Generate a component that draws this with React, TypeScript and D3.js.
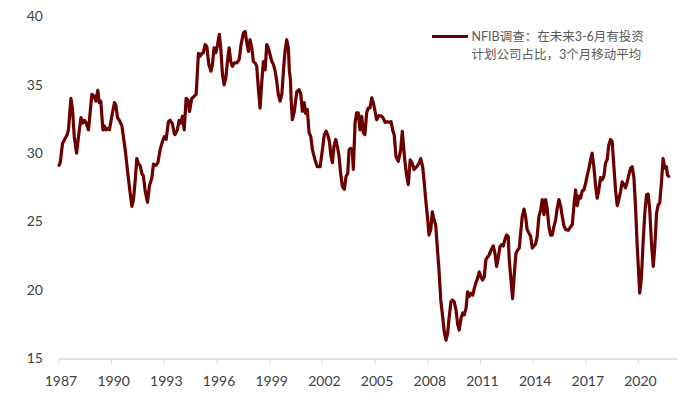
import React, { useEffect, useRef } from "react";
import * as d3 from "d3";

// NFIB: share of firms planning capital outlays in next 3-6 months (3m MA)
const LINE_COLOR = "#6b0000";

const yTicks = [15, 20, 25, 30, 35, 40];
const xTickYears = [1987, 1990, 1993, 1996, 1999, 2002, 2005, 2008, 2011, 2014, 2017, 2020];
const legendLines = ["NFIB调查：在未来3-6月有投资", "计划公司占比，3个月移动平均"];

// observation dates as decimal years
const obsYear = [
  1987.0, 1987.07, 1987.2, 1987.45, 1987.54, 1987.68, 1987.77, 1987.87, 1988.0, 1988.11,
  1988.25, 1988.36, 1988.45, 1988.55, 1988.68, 1988.87, 1988.99, 1989.1, 1989.21, 1989.29,
  1989.38, 1989.5, 1989.59, 1989.67, 1989.78, 1989.87, 1990.01, 1990.16, 1990.24, 1990.33,
  1990.44, 1990.58, 1990.77, 1990.92, 1991.05, 1991.15, 1991.24, 1991.34, 1991.43, 1991.52,
  1991.62, 1991.72, 1991.81, 1991.91, 1992.04, 1992.15, 1992.29, 1992.38, 1992.52, 1992.63,
  1992.76, 1992.89, 1993.0, 1993.1, 1993.23, 1993.33, 1993.46, 1993.57, 1993.61, 1993.74,
  1993.84, 1993.94, 1994.03, 1994.13, 1994.24, 1994.34, 1994.43, 1994.56, 1994.69, 1994.81,
  1994.94, 1995.04, 1995.13, 1995.22, 1995.32, 1995.42, 1995.53, 1995.65, 1995.74, 1995.83,
  1995.93, 1996.02, 1996.13, 1996.21, 1996.31, 1996.4, 1996.5, 1996.59, 1996.69, 1996.78,
  1996.87, 1996.99, 1997.13, 1997.26, 1997.37, 1997.5, 1997.6, 1997.69, 1997.79, 1997.88,
  1997.98, 1998.07, 1998.17, 1998.26, 1998.35, 1998.45, 1998.55, 1998.64, 1998.74, 1998.83,
  1998.92, 1999.02, 1999.12, 1999.21, 1999.31, 1999.4, 1999.49, 1999.59, 1999.69, 1999.78,
  1999.87, 1999.97, 2000.06, 2000.12, 2000.18, 2000.22, 2000.29, 2000.4, 2000.54, 2000.67,
  2000.77, 2000.86, 2000.96, 2001.05, 2001.14, 2001.24, 2001.34, 2001.43, 2001.58, 2001.71,
  2001.87, 2002.0, 2002.11, 2002.21, 2002.3, 2002.4, 2002.49, 2002.57, 2002.66, 2002.76,
  2002.85, 2002.95, 2003.04, 2003.14, 2003.25, 2003.35, 2003.44, 2003.52, 2003.61, 2003.7,
  2003.76, 2003.86, 2003.95, 2004.04, 2004.14, 2004.24, 2004.33, 2004.42, 2004.52, 2004.61,
  2004.71, 2004.81, 2004.9, 2005.0, 2005.09, 2005.22, 2005.38, 2005.47, 2005.57, 2005.7,
  2005.81, 2005.91, 2006.0, 2006.09, 2006.19, 2006.32, 2006.46, 2006.55, 2006.67, 2006.78,
  2006.89, 2007.0, 2007.12, 2007.22, 2007.37, 2007.5, 2007.6, 2007.71, 2007.8, 2007.9,
  2008.0, 2008.07, 2008.17, 2008.26, 2008.36, 2008.45, 2008.54, 2008.64, 2008.74, 2008.85,
  2008.94, 2009.04, 2009.13, 2009.22, 2009.32, 2009.41, 2009.51, 2009.61, 2009.7, 2009.79,
  2009.89, 2009.99, 2010.08, 2010.18, 2010.27, 2010.36, 2010.46, 2010.56, 2010.65, 2010.74,
  2010.84, 2010.93, 2011.03, 2011.12, 2011.22, 2011.31, 2011.41, 2011.5, 2011.6, 2011.73,
  2011.83, 2011.92, 2012.01, 2012.11, 2012.21, 2012.3, 2012.4, 2012.49, 2012.58, 2012.64,
  2012.74, 2012.83, 2012.93, 2013.02, 2013.12, 2013.21, 2013.29, 2013.38, 2013.48, 2013.57,
  2013.66, 2013.76, 2013.86, 2013.95, 2014.05, 2014.14, 2014.23, 2014.33, 2014.43, 2014.52,
  2014.62, 2014.71, 2014.8, 2014.9, 2015.0, 2015.09, 2015.18, 2015.28, 2015.37, 2015.47,
  2015.57, 2015.66, 2015.75, 2015.85, 2016.0, 2016.13, 2016.23, 2016.32, 2016.42, 2016.51,
  2016.61, 2016.7, 2016.8, 2016.89, 2016.99, 2017.08, 2017.18, 2017.27, 2017.36, 2017.46,
  2017.56, 2017.65, 2017.74, 2017.84, 2017.93, 2018.03, 2018.12, 2018.22, 2018.31, 2018.41,
  2018.5, 2018.6, 2018.7, 2018.79, 2018.88, 2018.98, 2019.07, 2019.17, 2019.26, 2019.36,
  2019.45, 2019.55, 2019.64, 2019.74, 2019.83, 2019.92, 2020.02, 2020.07, 2020.17, 2020.26,
  2020.36, 2020.46, 2020.55, 2020.64, 2020.74, 2020.84, 2020.93, 2021.03, 2021.12, 2021.21,
  2021.31, 2021.4, 2021.5, 2021.59, 2021.65, 2021.72,
];

// % of firms planning capex, 3-month moving average
const capexPlanPct = [
  29.1, 29.3, 30.7, 31.3, 31.7, 34.0, 33.2, 31.2, 30.0, 31.2,
  32.6, 32.2, 32.4, 32.2, 31.7, 34.3, 34.2, 33.8, 34.6, 33.7,
  33.8, 31.7, 32.0, 31.7, 31.8, 31.7, 32.7, 33.7, 33.5, 32.6,
  32.4, 32.0, 30.25, 28.5, 27.1, 26.1, 26.6, 28.0, 29.6, 29.2,
  29.1, 28.5, 28.3, 27.2, 26.4, 27.6, 28.2, 29.2, 29.1, 29.3,
  30.25, 30.85, 31.2, 31.0, 32.3, 32.4, 32.15, 31.4, 31.35, 31.7,
  32.4, 32.2, 32.7, 31.7, 34.0, 33.9, 33.05, 34.0, 34.15, 34.3,
  37.3, 37.1, 37.3, 37.35, 37.95, 37.8, 36.5, 36.0, 36.5, 37.7,
  37.35, 37.85, 38.7, 37.7, 35.75, 35.0, 35.5, 36.7, 37.7, 36.7,
  36.35, 36.6, 36.6, 36.85, 37.95, 38.8, 38.9, 38.1, 37.45, 38.3,
  37.7, 36.7, 36.6, 36.35, 34.8, 33.3, 35.25, 36.7, 36.1, 37.95,
  37.7, 37.2, 36.7, 36.5, 36.0, 35.25, 34.3, 33.8, 34.3, 36.0,
  37.45, 38.3, 37.7, 36.0, 35.4, 33.9, 32.45, 33.05, 34.5, 34.65,
  34.3, 33.05, 33.7, 32.9, 33.2, 31.5, 31.2, 30.25, 29.5, 29.0,
  29.0, 30.25, 31.35, 31.6, 31.35, 30.85, 29.75, 29.3, 30.5, 31.0,
  30.5, 29.75, 28.5, 27.55, 27.35, 28.3, 28.5, 30.25, 30.35, 30.25,
  28.8, 32.2, 32.95, 32.95, 31.7, 32.7, 31.5, 31.35, 32.95, 33.3,
  33.3, 34.05, 33.7, 33.05, 32.45, 32.75, 32.7, 32.55, 32.25, 32.3,
  32.25, 32.3, 31.7, 31.35, 29.75, 29.4, 30.25, 31.6, 29.75, 28.5,
  27.7, 29.5, 29.25, 28.8, 29.0, 29.25, 29.6, 29.0, 27.8, 26.35,
  25.1, 24.0, 24.4, 25.7, 25.1, 24.75, 23.15, 21.45, 19.25, 18.0,
  16.9, 16.3, 16.8, 18.0, 19.1, 19.25, 19.1, 18.5, 17.5, 17.05,
  17.9, 18.3, 18.15, 18.65, 19.85, 19.5, 19.75, 19.6, 20.1, 20.5,
  20.85, 21.3, 20.95, 20.7, 20.95, 22.2, 22.4, 22.55, 22.9, 23.2,
  22.65, 21.7, 22.3, 23.15, 23.3, 23.2, 23.7, 24.0, 23.9, 22.2,
  20.7, 19.35, 21.2, 22.65, 22.9, 23.05, 24.15, 25.35, 25.9, 25.35,
  24.4, 24.15, 23.9, 23.05, 23.2, 23.35, 23.9, 25.35, 25.85, 26.6,
  25.5, 26.6, 25.95, 24.6, 24.0, 24.0, 24.6, 25.1, 25.95, 26.6,
  26.1, 25.35, 24.7, 24.4, 24.35, 24.6, 24.75, 26.1, 27.3, 26.15,
  26.85, 26.7, 27.25, 27.3, 27.8, 28.35, 28.9, 29.5, 30.0, 29.0,
  27.55, 26.7, 27.3, 28.2, 28.05, 28.3, 29.25, 29.55, 30.6, 31.0,
  30.85, 29.0, 27.2, 26.15, 26.6, 27.2, 27.9, 27.7, 27.45, 27.9,
  28.4, 28.9, 29.0, 28.2, 26.1, 23.4, 20.95, 19.75, 20.95, 23.4,
  25.6, 26.95, 27.0, 25.85, 23.4, 21.7, 23.15, 25.6, 26.2, 26.35,
  27.9, 29.6, 28.9, 29.0, 28.4, 28.3,
];

const WIDTH = 696;
const HEIGHT = 395;

export default function App() {
  const svgRef = useRef<SVGSVGElement>(null);

  useEffect(() => {
    if (!svgRef.current) return;
    const svg = d3.select(svgRef.current);
    svg.selectAll("*").remove();

    const x = d3.scaleLinear().domain([1987, 2022.25]).range([59, 678]);
    const y = d3.scaleLinear().domain([15, 40]).range([358, 16.5]);

    const axisFont = "Lato, 'Liberation Sans', sans-serif";

    // y labels (no axis line)
    svg
      .append("g")
      .selectAll("text")
      .data(yTicks)
      .join("text")
      .attr("x", 43)
      .attr("y", (d) => y(d))
      .attr("dy", "0.35em")
      .attr("text-anchor", "end")
      .attr("font-family", axisFont)
      .attr("font-size", 14)
      .attr("fill", "#404040")
      .text((d) => d);

    // x axis
    const axisY = y(15) + 1;
    const xAxis = svg.append("g");
    xAxis
      .append("line")
      .attr("x1", x(1987))
      .attr("x2", x(2022.25))
      .attr("y1", axisY)
      .attr("y2", axisY)
      .attr("stroke", "#d9d9d9")
      .attr("stroke-width", 1.3);

    xAxis
      .selectAll(".tick")
      .data(xTickYears)
      .join("line")
      .attr("class", "tick")
      .attr("x1", (d) => x(d))
      .attr("x2", (d) => x(d))
      .attr("y1", axisY)
      .attr("y2", axisY + 5)
      .attr("stroke", "#d9d9d9")
      .attr("stroke-width", 1);

    xAxis
      .selectAll(".tick-label")
      .data(xTickYears)
      .join("text")
      .attr("class", "tick-label")
      .attr("x", (d) => x(d) + 2)
      .attr("y", 386)
      .attr("text-anchor", "middle")
      .attr("font-family", axisFont)
      .attr("font-size", 14)
      .attr("fill", "#404040")
      .text((d) => d);

    // series
    const pts = obsYear.map((t, i) => [t, capexPlanPct[i]] as [number, number]);
    const line = d3
      .line<[number, number]>()
      .x((d) => x(d[0]))
      .y((d) => y(d[1]));

    svg
      .append("path")
      .datum(pts)
      .attr("d", line)
      .attr("fill", "none")
      .attr("stroke", LINE_COLOR)
      .attr("stroke-width", 3.2)
      .attr("stroke-linejoin", "round")
      .attr("stroke-linecap", "round");

    // legend
    const lg = svg.append("g");
    lg.append("line")
      .attr("x1", 432)
      .attr("x2", 468)
      .attr("y1", 36.5)
      .attr("y2", 36.5)
      .attr("stroke", LINE_COLOR)
      .attr("stroke-width", 3);

    lg.selectAll("text")
      .data(legendLines)
      .join("text")
      .attr("x", 471.5)
      .attr("y", (_, i) => 36.5 + i * 17.8)
      .attr("dy", "0.35em")
      .attr("font-family", "Lato, 'Noto Sans CJK SC', sans-serif")
      .attr("font-size", 12.5)
      .attr("fill", "#595959")
      .text((d) => d);
  }, []);

  return (
    <div style={{ position: "absolute", left: 0, top: 0, background: "#fff" }}>
      <svg ref={svgRef} width={WIDTH} height={HEIGHT} />
    </div>
  );
}
